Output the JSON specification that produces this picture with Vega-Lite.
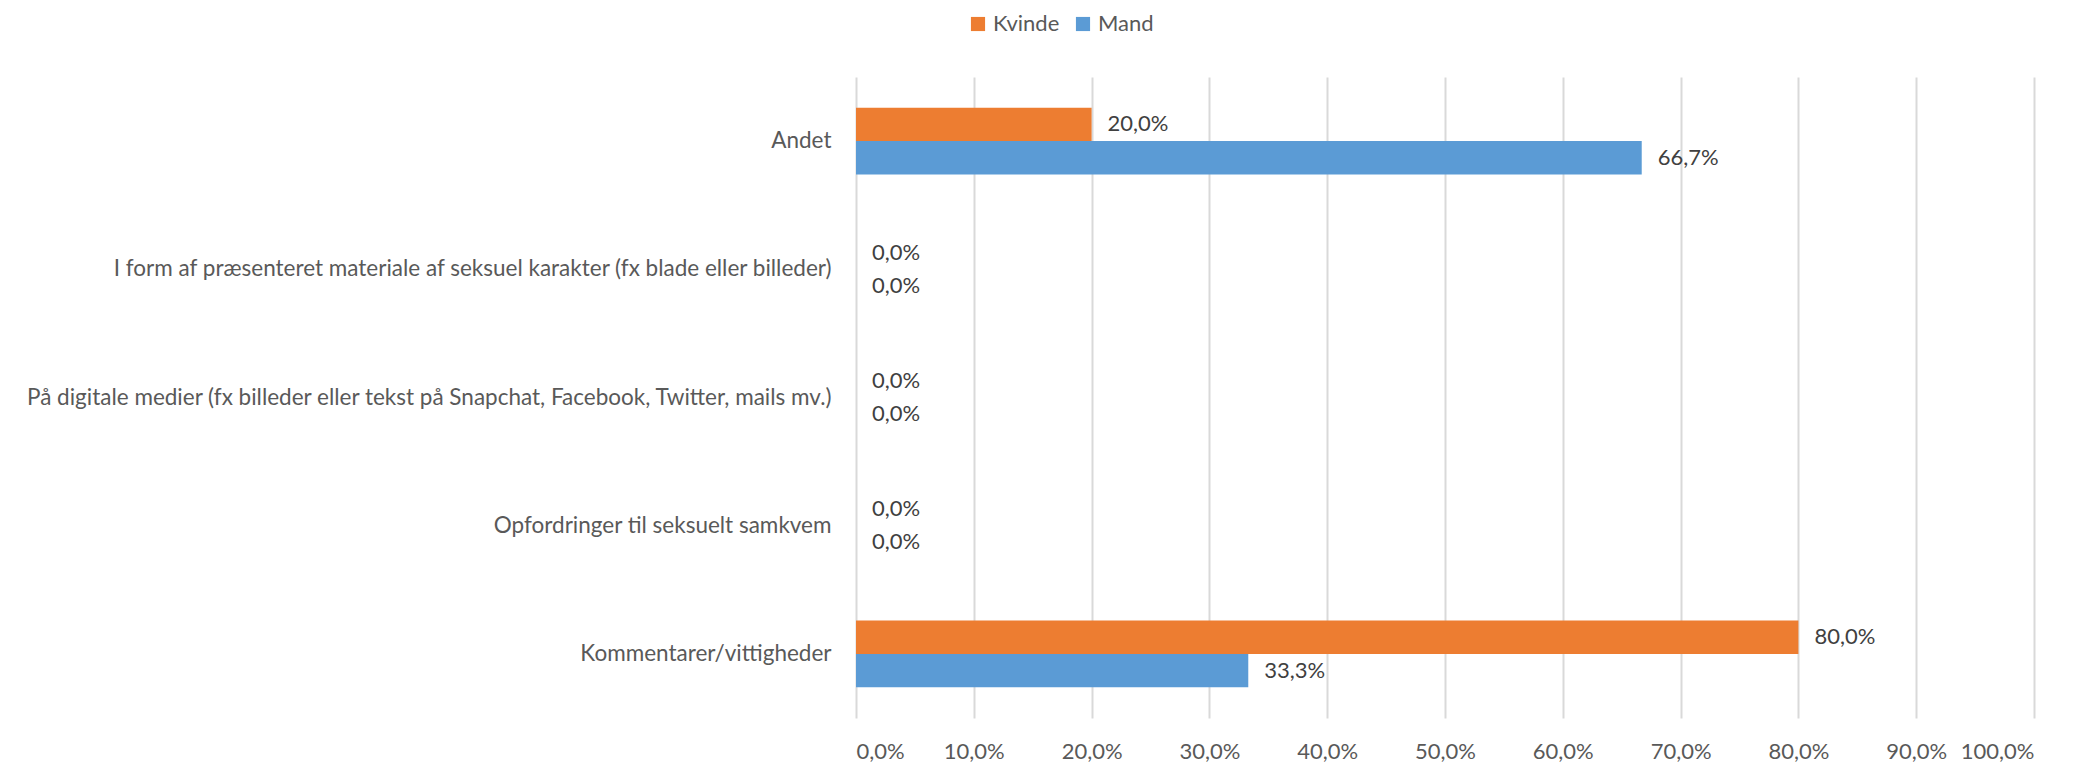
{
  "$schema": "https://vega.github.io/schema/vega-lite/v6.json",
  "width": 1178,
  "height": 641,
  "autosize": {"type": "none"},
  "padding": {"left": 856, "top": 77, "right": 41, "bottom": 45},
  "config": {
    "locale": {"number": {"decimal": ",", "thousands": ".", "grouping": [3], "currency": ["", " kr."]}},
    "view": {"stroke": null},
    "font": "Lato"
  },
  "data": {
    "values": [
      {"kategori": "Andet", "køn": "Kvinde", "andel": 0.2},
      {"kategori": "Andet", "køn": "Mand", "andel": 0.667},
      {"kategori": "I form af præsenteret materiale af seksuel karakter (fx blade eller billeder)", "køn": "Kvinde", "andel": 0},
      {"kategori": "I form af præsenteret materiale af seksuel karakter (fx blade eller billeder)", "køn": "Mand", "andel": 0},
      {"kategori": "På digitale medier (fx billeder eller tekst på Snapchat, Facebook, Twitter, mails mv.)", "køn": "Kvinde", "andel": 0},
      {"kategori": "På digitale medier (fx billeder eller tekst på Snapchat, Facebook, Twitter, mails mv.)", "køn": "Mand", "andel": 0},
      {"kategori": "Opfordringer til seksuelt samkvem", "køn": "Kvinde", "andel": 0},
      {"kategori": "Opfordringer til seksuelt samkvem", "køn": "Mand", "andel": 0},
      {"kategori": "Kommentarer/vittigheder", "køn": "Kvinde", "andel": 0.8},
      {"kategori": "Kommentarer/vittigheder", "køn": "Mand", "andel": 0.333}
    ]
  },
  "encoding": {
    "y": {
      "field": "kategori",
      "type": "nominal",
      "sort": [
        "Andet",
        "I form af præsenteret materiale af seksuel karakter (fx blade eller billeder)",
        "På digitale medier (fx billeder eller tekst på Snapchat, Facebook, Twitter, mails mv.)",
        "Opfordringer til seksuelt samkvem",
        "Kommentarer/vittigheder"
      ],
      "scale": {"paddingInner": 0.478, "paddingOuter": 0.239},
      "axis": {
        "title": null,
        "domain": false,
        "ticks": false,
        "labelPadding": 25,
        "labelLimit": 1000,
        "labelFontSize": 22.5,
        "labelColor": "#595959",
        "labelFont": "Lato"
      }
    },
    "yOffset": {"field": "køn", "type": "nominal", "sort": ["Kvinde", "Mand"]},
    "x": {
      "field": "andel",
      "type": "quantitative",
      "scale": {"domain": [0, 1], "nice": false},
      "axis": {
        "title": null,
        "format": ".1%",
        "values": [0, 0.1, 0.2, 0.3, 0.4, 0.5, 0.6, 0.7, 0.8, 0.9, 1],
        "domain": false,
        "ticks": false,
        "labelPadding": 23,
        "labelFontSize": 22,
        "labelColor": "#595959",
        "labelFont": "Lato",
        "gridColor": "#d9d9d9",
        "gridWidth": 2
      }
    }
  },
  "layer": [
    {
      "mark": {"type": "bar"},
      "encoding": {
        "color": {
          "field": "køn",
          "type": "nominal",
          "sort": ["Kvinde", "Mand"],
          "scale": {"domain": ["Kvinde", "Mand"], "range": ["#ED7D31", "#5B9BD5"]},
          "legend": {
            "title": null,
            "orient": "none",
            "direction": "horizontal",
            "legendX": 111,
            "legendY": -64,
            "symbolType": "square",
            "symbolSize": 200,
            "symbolStrokeWidth": 0,
            "labelFontSize": 22,
            "labelColor": "#595959",
            "labelFont": "Lato",
            "columnPadding": 12,
            "labelOffset": 4
          }
        }
      }
    },
    {
      "mark": {"type": "text", "align": "left", "baseline": "middle", "dx": 16, "fontSize": 22, "color": "#404040", "font": "Lato"},
      "encoding": {
        "text": {"field": "andel", "type": "quantitative", "format": ".1%"}
      }
    }
  ]
}
